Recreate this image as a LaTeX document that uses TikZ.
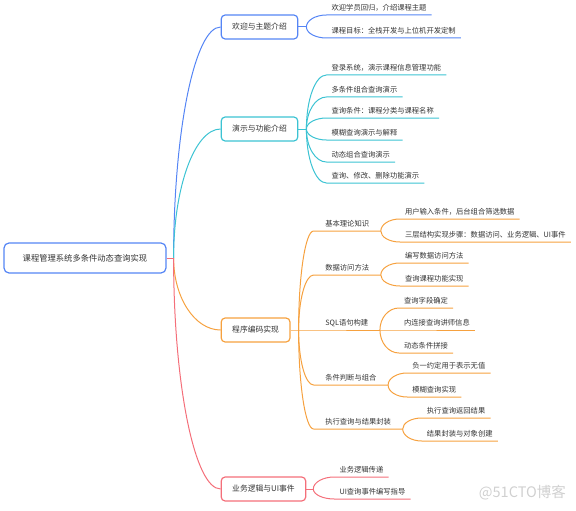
\documentclass[tikz,border=0pt]{standalone}
\usepackage{fontspec}
\setmainfont{Noto Sans CJK SC}
\usepackage{tikz}
\usetikzlibrary{positioning,calc}
\definecolor{cblue}{HTML}{5585F5}
\definecolor{ccyan}{HTML}{3CC3D3}
\definecolor{corange}{HTML}{F6A13F}
\definecolor{cred}{HTML}{F46F7A}
\definecolor{txtgray}{HTML}{333333}
\definecolor{wmgray}{HTML}{D0D0D0}

\begin{document}
\begin{tikzpicture}[
every node/.style={text=txtgray},
rootbox/.style={draw=cblue, line width=1.2pt, rounded corners=5pt,
  minimum width=162pt, minimum height=30pt, inner sep=0pt,
  font=\fontsize{8.3}{10}\selectfont},
topic/.style={line width=1.2pt, rounded corners=4pt, minimum height=24pt,
  inner xsep=11pt, inner ysep=0pt, font=\fontsize{7.8}{9}\selectfont},
subtopic/.style={inner xsep=11.5pt, inner ysep=3pt, text height=6pt,
  text depth=1pt, font=\fontsize{7.3}{9}\selectfont},
leaf/.style={inner xsep=5pt, inner ysep=3pt, text height=6pt,
  text depth=1pt, font=\fontsize{7.3}{9}\selectfont},
stamp/.style={text=wmgray, inner sep=0pt, font=\fontsize{14.5}{16}\selectfont},
link/.style={line width=1pt},
arcto/.style={to path={.. controls ($(\tikztostart)!0.55!(\tikztostart |- \tikztotarget)$)
  and ($(\tikztostart |- \tikztotarget)!0.45!(\tikztotarget)$) .. (\tikztotarget)}}]
\useasboundingbox (0,0) rectangle (576pt,-511pt);

% root and main topics
\node[rootbox] (root) at (85pt,-258pt) {课程管理系统多条件动态查询实现};
\coordinate[right=7pt of root] (hub);
\node[topic, draw=cblue, right=47pt of hub, yshift=231pt] (intro) {欢迎与主题介绍};
\node[topic, draw=ccyan, right=47pt of hub, yshift=129pt] (demo) {演示与功能介绍};
\node[topic, draw=corange, right=47pt of hub, yshift=-72pt] (code) {程序编码实现};
\node[topic, draw=cred, right=47pt of hub, yshift=-231pt] (ui) {业务逻辑与UI事件};

\draw[link, cred] (root.east) -- (hub);
\draw[link, cblue] (hub) to[arcto] (intro.west);
\draw[link, ccyan] (hub) to[arcto] (demo.west);
\draw[link, corange] (hub) to[arcto] (code.west);
\draw[link, cred] (hub) to[arcto] (ui.west);

% welcome
\coordinate[right=8pt of intro] (intro-j);
\node[leaf, above right=12pt and 20pt of intro-j] (intro-a) {欢迎学员回归，介绍课程主题};
\node[leaf, above right=-11pt and 20pt of intro-j] (intro-b) {课程目标：全栈开发与上位机开发定制};
\draw[link, cblue] (intro.east) -- (intro-j);
\draw[link, cblue] (intro-j) to[arcto] (intro-a.south west) -- (intro-a.south east);
\draw[link, cblue] (intro-j) to[arcto] (intro-b.south west) -- (intro-b.south east);

% demo
\coordinate[right=8pt of demo] (demo-j);
\node[leaf, above right=54pt and 20pt of demo-j] (demo-a) {登录系统，演示课程信息管理功能};
\node[leaf, above right=32pt and 20pt of demo-j] (demo-b) {多条件组合查询演示};
\node[leaf, above right=11pt and 20pt of demo-j] (demo-c) {查询条件：课程分类与课程名称};
\node[leaf, above right=-11pt and 20pt of demo-j] (demo-d) {模糊查询演示与解释};
\node[leaf, above right=-33pt and 20pt of demo-j] (demo-e) {动态组合查询演示};
\node[leaf, above right=-54pt and 20pt of demo-j] (demo-f) {查询、修改、删除功能演示};
\draw[link, ccyan] (demo.east) -- (demo-j);
\draw[link, ccyan] (demo-j) to[arcto] (demo-a.south west) -- (demo-a.south east);
\draw[link, ccyan] (demo-j) to[arcto] (demo-b.south west) -- (demo-b.south east);
\draw[link, ccyan] (demo-j) to[arcto] (demo-c.south west) -- (demo-c.south east);
\draw[link, ccyan] (demo-j) to[arcto] (demo-d.south west) -- (demo-d.south east);
\draw[link, ccyan] (demo-j) to[arcto] (demo-e.south west) -- (demo-e.south east);
\draw[link, ccyan] (demo-j) to[arcto] (demo-f.south west) -- (demo-f.south east);

% coding
\coordinate[right=8pt of code] (code-j);
\node[subtopic, above right=99pt and 15pt of code-j] (code-a) {基本理论知识};
\node[subtopic, above right=55pt and 15pt of code-j] (code-b) {数据访问方法};
\node[subtopic, above right=0pt and 15pt of code-j] (code-c) {SQL语句构建};
\node[subtopic, above right=-55pt and 15pt of code-j] (code-d) {条件判断与组合};
\node[subtopic, above right=-99pt and 15pt of code-j] (code-e) {执行查询与结果封装};
\draw[link, corange] (code.east) -- (code-c.south west) -- (code-c.south east);
\draw[link, corange] (code-j) to[arcto] (code-a.south west) -- (code-a.south east);
\draw[link, corange] (code-j) to[arcto] (code-b.south west) -- (code-b.south east);
\draw[link, corange] (code-j) to[arcto] (code-d.south west) -- (code-d.south east);
\draw[link, corange] (code-j) to[arcto] (code-e.south west) -- (code-e.south east);

\node[leaf, above right=12pt and 19pt of code-a.south east] (code-a1) {用户输入条件，后台组合筛选数据};
\node[leaf, above right=-11pt and 19pt of code-a.south east] (code-a2) {三层结构实现步骤：数据访问、业务逻辑、UI事件};
\node[leaf, above right=12pt and 19pt of code-b.south east] (code-b1) {编写数据访问方法};
\node[leaf, above right=-11pt and 19pt of code-b.south east] (code-b2) {查询课程功能实现};
\node[leaf, above right=22pt and 19pt of code-c.south east] (code-c1) {查询字段确定};
\node[leaf, above right=0pt and 19pt of code-c.south east] (code-c2) {内连接查询讲师信息};
\node[leaf, above right=-23pt and 19pt of code-c.south east] (code-c3) {动态条件拼接};
\node[leaf, above right=12pt and 19pt of code-d.south east] (code-d1) {负一约定用于表示无值};
\node[leaf, above right=-12pt and 19pt of code-d.south east] (code-d2) {模糊查询实现};
\node[leaf, above right=11pt and 19pt of code-e.south east] (code-e1) {执行查询返回结果};
\node[leaf, above right=-12pt and 19pt of code-e.south east] (code-e2) {结果封装与对象创建};
\draw[link, corange] (code-a.south east) to[arcto] (code-a1.south west) -- (code-a1.south east);
\draw[link, corange] (code-a.south east) to[arcto] (code-a2.south west) -- (code-a2.south east);
\draw[link, corange] (code-b.south east) to[arcto] (code-b1.south west) -- (code-b1.south east);
\draw[link, corange] (code-b.south east) to[arcto] (code-b2.south west) -- (code-b2.south east);
\draw[link, corange] (code-c.south east) to[arcto] (code-c1.south west) -- (code-c1.south east);
\draw[link, corange] (code-c.south east) -- (code-c2.south west) -- (code-c2.south east);
\draw[link, corange] (code-c.south east) to[arcto] (code-c3.south west) -- (code-c3.south east);
\draw[link, corange] (code-d.south east) to[arcto] (code-d1.south west) -- (code-d1.south east);
\draw[link, corange] (code-d.south east) to[arcto] (code-d2.south west) -- (code-d2.south east);
\draw[link, corange] (code-e.south east) to[arcto] (code-e1.south west) -- (code-e1.south east);
\draw[link, corange] (code-e.south east) to[arcto] (code-e2.south west) -- (code-e2.south east);

% business logic and ui
\coordinate[right=7pt of ui] (ui-j);
\node[leaf, above right=12pt and 21pt of ui-j] (ui-a) {业务逻辑传递};
\node[leaf, above right=-10pt and 21pt of ui-j] (ui-b) {UI查询事件编写指导};
\draw[link, cred] (ui.east) -- (ui-j);
\draw[link, cred] (ui-j) to[arcto] (ui-a.south west) -- (ui-a.south east);
\draw[link, cred] (ui-j) to[arcto] (ui-b.south west) -- (ui-b.south east);

\node[stamp, anchor=east] (wmark) at (566pt,-493pt) {@51CTO博客};
\end{tikzpicture}
\end{document}
